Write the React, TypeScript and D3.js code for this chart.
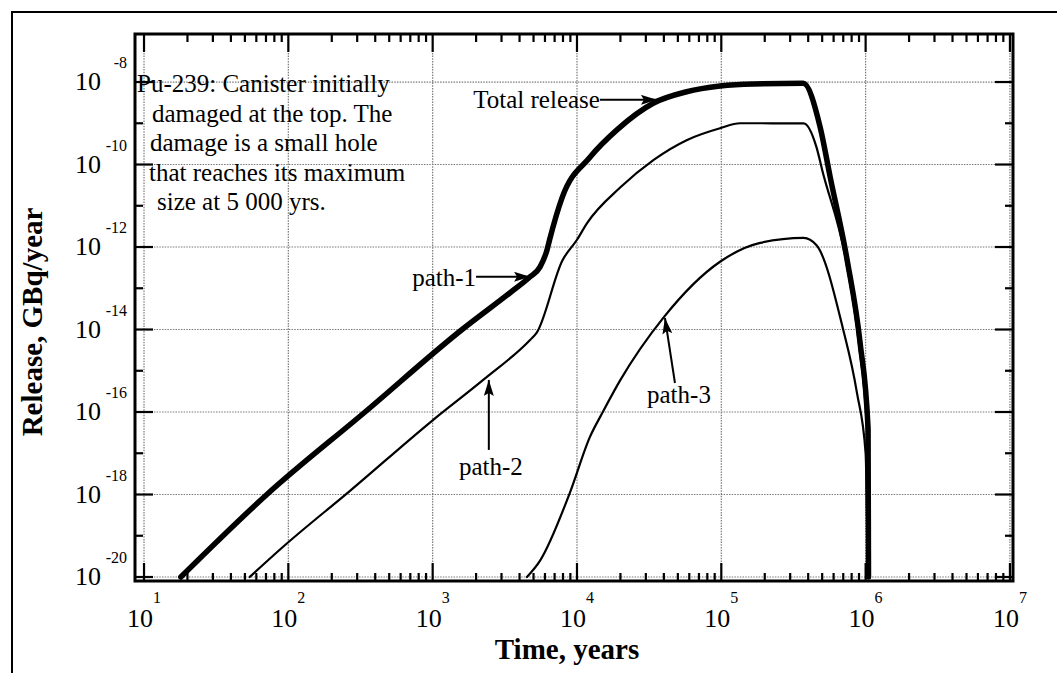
import * as d3 from "d3";
import React, { useRef, useEffect } from "react";

const width = 1057;
const height = 673;

// plot frame edges (px)
const frame = { left: 135, right: 1013, top: 34, bottom: 581 };

const serif = "'Liberation Serif', 'Times New Roman', serif";

// axis limits of the frame
const timeDomain = [8.66, 1.05e7];
const releaseDomain = [8.0e-21, 1.46e-7];

const timeDecades = [10, 1e2, 1e3, 1e4, 1e5, 1e6, 1e7];
const timeExponents = ["1", "2", "3", "4", "5", "6", "7"];
const releaseDecades = [1e-8, 1e-10, 1e-12, 1e-14, 1e-16, 1e-18, 1e-20];
const releaseExponents = ["-8", "-10", "-12", "-14", "-16", "-18", "-20"];
const releaseMinor = [1e-9, 1e-11, 1e-13, 1e-15, 1e-17, 1e-19];

// Total release
const totalTime = [18, 71, 340, 1600, 3440, 4730, 5550, 6200, 6460, 7900, 12300, 19000, 34000, 57500, 98000, 166000, 370000, 484000, 568000, 745000, 916000, 1040000, 1047000];
const totalRelease = [1e-20, 1e-18, 1e-16, 1e-14, 7.8e-14, 1.9e-13, 3.3e-13, 8.5e-13, 1.5e-12, 1.6e-11, 1.5e-10, 7e-10, 3.1e-9, 5.8e-9, 8e-9, 9e-9, 9.3e-9, 8.1e-10, 5e-11, 4.8e-13, 4.7e-15, 4e-17, 1e-20];

// path-2
const path2Time = [54, 92, 270, 1000, 2240, 4730, 5250, 7940, 10000, 11750, 20000, 34000, 57500, 98000, 135000, 372000, 457000, 500000, 738000, 902000, 1023000, 1035000];
const path2Release = [1e-20, 5.4e-20, 1.26e-18, 6.3e-17, 6e-16, 5.6e-15, 8.3e-15, 4.8e-13, 1.5e-12, 3.8e-12, 2.8e-11, 1.3e-10, 3.9e-10, 7.6e-10, 1e-9, 1e-9, 2.6e-10, 7.4e-11, 4e-13, 4e-15, 3.2e-17, 1e-20];

// path-3
const path3Time = [4500, 5550, 8900, 12300, 15100, 20000, 40000, 98000, 186000, 372000, 457000, 692000, 871000, 1000000, 1035000];
const path3Release = [1e-20, 2.5e-20, 1.07e-18, 2.5e-17, 1e-16, 6e-16, 2e-14, 4.4e-13, 1.26e-12, 1.66e-12, 1.1e-12, 1.15e-14, 2.9e-16, 1e-17, 1e-20];

const noteLines = [
  "Pu-239:  Canister initially",
  "damaged at the top. The",
  "damage is a small hole",
  "that reaches its maximum",
  "size at 5 000 yrs.",
];
const noteIndent = [2, 17, 15, 14, 22];

// arrow labels: text, arrow tip (time, release)
const labelText = ["Total release", "path-1", "path-2", "path-3"];
const labelTipTime = [35800, 4730, 2450, 40700];
const labelTipRelease = [3.7e-9, 1.9e-13, 6e-16, 1.9e-14];

const ReleaseChart = () => {
  const ref = useRef<SVGSVGElement>(null);

  useEffect(() => {
    const svg = d3.select(ref.current);
    svg.selectAll("*").remove();

    const x = d3.scaleLog().domain(timeDomain).range([frame.left, frame.right]);
    const y = d3.scaleLog().domain(releaseDomain).range([frame.bottom, frame.top]);

    svg
      .append("defs")
      .append("marker")
      .attr("id", "head")
      .attr("markerUnits", "userSpaceOnUse")
      .attr("markerWidth", 18)
      .attr("markerHeight", 10)
      .attr("refX", 16)
      .attr("refY", 5)
      .attr("orient", "auto")
      .append("path")
      .attr("d", "M0,0 L16,5 L0,10 L3,5 Z")
      .attr("fill", "#000");

    // outer box (only top & left visible)
    svg
      .append("path")
      .attr("d", `M12,${height} V12 H${width}`)
      .attr("fill", "none")
      .attr("stroke", "#000")
      .attr("stroke-width", 2);

    // grid
    const grid = svg
      .append("g")
      .attr("stroke", "#7a7a7a")
      .attr("stroke-width", 1.2)
      .attr("stroke-dasharray", "1.5,1.2");
    timeDecades.forEach((t) => {
      grid.append("line").attr("x1", x(t)).attr("x2", x(t)).attr("y1", frame.top).attr("y2", frame.bottom);
    });
    releaseDecades.forEach((r) => {
      grid.append("line").attr("x1", frame.left).attr("x2", frame.right).attr("y1", y(r)).attr("y2", y(r));
    });

    // ticks
    const ticks = svg.append("g").attr("stroke", "#000").attr("stroke-width", 2.2);
    const minorTimes: number[] = [];
    timeDecades.slice(0, -1).forEach((d) => {
      for (let k = 2; k <= 9; k++) minorTimes.push(k * d);
    });
    minorTimes.forEach((t) => {
      ticks.append("line").attr("x1", x(t)).attr("x2", x(t)).attr("y1", frame.bottom).attr("y2", frame.bottom - 8);
      ticks.append("line").attr("x1", x(t)).attr("x2", x(t)).attr("y1", frame.top).attr("y2", frame.top + 8);
    });
    timeDecades.forEach((t) => {
      ticks.append("line").attr("x1", x(t)).attr("x2", x(t)).attr("y1", frame.bottom).attr("y2", frame.bottom - 18);
      ticks.append("line").attr("x1", x(t)).attr("x2", x(t)).attr("y1", frame.top).attr("y2", frame.top + 18);
    });
    releaseDecades.forEach((r) => {
      ticks.append("line").attr("x1", frame.left).attr("x2", frame.left + 18).attr("y1", y(r)).attr("y2", y(r));
      ticks.append("line").attr("x1", frame.right).attr("x2", frame.right - 18).attr("y1", y(r)).attr("y2", y(r));
    });
    releaseMinor.forEach((r) => {
      ticks.append("line").attr("x1", frame.left).attr("x2", frame.left + 8).attr("y1", y(r)).attr("y2", y(r));
      ticks.append("line").attr("x1", frame.right).attr("x2", frame.right - 8).attr("y1", y(r)).attr("y2", y(r));
    });

    // frame
    svg
      .append("rect")
      .attr("x", frame.left)
      .attr("y", frame.top)
      .attr("width", frame.right - frame.left)
      .attr("height", frame.bottom - frame.top)
      .attr("fill", "none")
      .attr("stroke", "#000")
      .attr("stroke-width", 3);

    // tick labels
    const labels = svg.append("g").attr("font-family", serif).attr("fill", "#000");
    timeDecades.forEach((t, i) => {
      const txt = labels
        .append("text")
        .attr("x", x(t))
        .attr("y", frame.bottom + 46)
        .attr("text-anchor", "middle")
        .attr("font-size", 26);
      txt.append("tspan").text("10");
      txt.append("tspan").attr("dy", -24).attr("font-size", 16).text(timeExponents[i]);
    });
    releaseDecades.forEach((r, i) => {
      labels
        .append("text")
        .attr("x", 101)
        .attr("y", y(r) + 8)
        .attr("text-anchor", "end")
        .attr("font-size", 26)
        .text("10");
      labels
        .append("text")
        .attr("x", 127)
        .attr("y", y(r) - 14)
        .attr("text-anchor", "end")
        .attr("font-size", 16)
        .text(releaseExponents[i]);
    });

    // axis titles
    svg
      .append("text")
      .attr("x", (frame.left + frame.right) / 2 - 7)
      .attr("y", 659)
      .attr("text-anchor", "middle")
      .attr("font-family", serif)
      .attr("font-weight", "bold")
      .attr("font-size", 29)
      .text("Time, years");
    svg
      .append("text")
      .attr("transform", "translate(42, 322) rotate(-90)")
      .attr("text-anchor", "middle")
      .attr("font-family", serif)
      .attr("font-weight", "bold")
      .attr("font-size", 29)
      .text("Release, GBq/year");

    // curves
    const line = d3
      .line<[number, number]>()
      .x((d) => d[0])
      .y((d) => d[1])
      .curve(d3.curveMonotoneX);
    const draw = (times: number[], rel: number[], w: number) => {
      const pts = times.map((t, i) => [x(t), y(rel[i])] as [number, number]);
      svg
        .append("path")
        .attr("d", line(pts))
        .attr("fill", "none")
        .attr("stroke", "#000")
        .attr("stroke-width", w)
        .attr("stroke-linejoin", "round")
        .attr("stroke-linecap", "round");
    };
    draw(path3Time, path3Release, 2.2);
    draw(path2Time, path2Release, 2.2);
    draw(totalTime, totalRelease, 5.5);

    // note text
    const note = svg.append("text").attr("font-family", serif).attr("font-size", 25).attr("fill", "#000");
    noteLines.forEach((s, i) => {
      note
        .append("tspan")
        .attr("x", frame.left + noteIndent[i])
        .attr("y", 92 + i * 29.5)
        .text(s);
    });

    // arrow labels
    const tips = labelText.map((_, i) => [x(labelTipTime[i]), y(labelTipRelease[i])]);
    const tails = [
      [tips[0][0] - 57, tips[0][1]],
      [tips[1][0] - 54, tips[1][1]],
      [tips[2][0], tips[2][1] + 70],
      [tips[3][0] + 10, tips[3][1] + 65],
    ];
    const textPos = [
      [tails[0][0], tails[0][1] + 8, "end"],
      [tails[1][0], tails[1][1] + 9, "end"],
      [tails[2][0] + 2, tails[2][1] + 25, "middle"],
      [tails[3][0] + 4, tails[3][1] + 20, "middle"],
    ];
    labelText.forEach((s, i) => {
      svg
        .append("line")
        .attr("x1", tails[i][0])
        .attr("y1", tails[i][1])
        .attr("x2", tips[i][0])
        .attr("y2", tips[i][1])
        .attr("stroke", "#000")
        .attr("stroke-width", 2)
        .attr("marker-end", "url(#head)");
      svg
        .append("text")
        .attr("x", textPos[i][0] as number)
        .attr("y", textPos[i][1] as number)
        .attr("text-anchor", textPos[i][2] as string)
        .attr("font-family", serif)
        .attr("font-size", 25)
        .text(s);
    });
  }, []);

  return (
    <svg
      ref={ref}
      width={width}
      height={height}
      style={{ position: "absolute", left: 0, top: 0, background: "#fff" }}
    />
  );
};

export default function App() {
  return <ReleaseChart />;
}
